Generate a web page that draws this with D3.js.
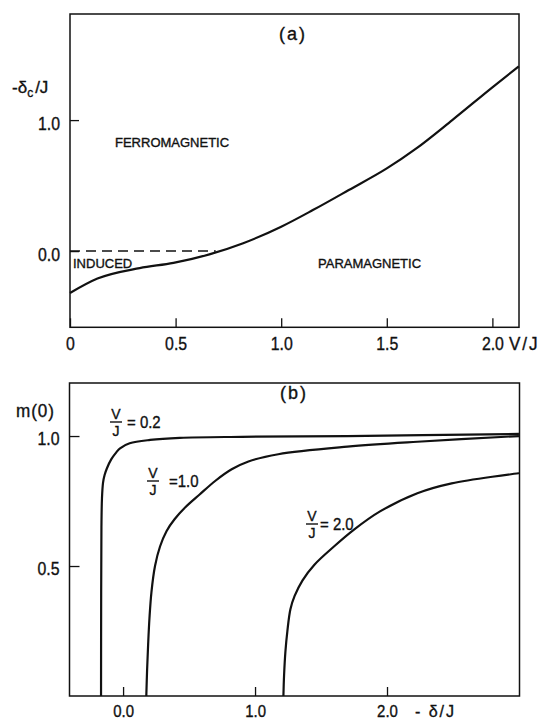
<!DOCTYPE html>
<html>
<head>
<meta charset="utf-8">
<script src="https://cdn.jsdelivr.net/npm/d3@7"></script>
<style>
  body { margin: 0; background: #fff; }
  text { font-family: "Liberation Sans", Arial, sans-serif; fill: #111; stroke: #111; stroke-width: 0.35px; }
</style>
</head>
<body>
<div id="chart"></div>
<script>
// Panel (a): phase boundary -delta_c/J vs V/J
const aV     = [0, 0.13, 0.33, 0.49, 0.66, 0.82, 1.0, 1.15, 1.32, 1.5, 1.64, 1.81, 2.0, 2.125];
const aDelta = [-0.32, -0.21, -0.13, -0.09, -0.025, 0.06, 0.186, 0.313, 0.466, 0.631, 0.784, 1.0, 1.25, 1.41];
const aDashV = [0, 0.69];
const aDashDelta = [0, 0];
const aXTicks = [0, 0.5, 1.0, 1.5, 2.0];
const aXLabels = ["0", "0.5", "1.0", "1.5", "2.0"];
const aYTicks = [0, 1.0];
const aYLabels = ["0.0", "1.0"];

// Panel (b): m(0) vs -delta/J for three V/J values
const b02x = [-0.167, -0.166, -0.164, -0.16, -0.152, -0.14, -0.123, -0.09, -0.05, -0.023, 0.05, 0.205, 0.43, 0.9, 1.7, 3.0];
const b02m = [0, 0.4, 0.65, 0.76, 0.82, 0.85, 0.875, 0.91, 0.938, 0.953, 0.972, 0.985, 0.993, 0.997, 1.0, 1.008];
const b10x = [0.176, 0.182, 0.19, 0.2, 0.215, 0.242, 0.28, 0.33, 0.39, 0.47, 0.58, 0.7, 0.823, 0.95, 1.176, 1.7, 2.23, 3.0];
const b10m = [0, 0.1, 0.2, 0.3, 0.4, 0.5, 0.575, 0.635, 0.68, 0.725, 0.775, 0.828, 0.872, 0.902, 0.93, 0.959, 0.978, 1.0];
const b20x = [1.215, 1.22, 1.23, 1.245, 1.268, 1.3, 1.36, 1.45, 1.598, 1.75, 1.947, 2.23, 2.49, 3.0];
const b20m = [0, 0.08, 0.17, 0.25, 0.334, 0.385, 0.445, 0.505, 0.575, 0.64, 0.71, 0.78, 0.818, 0.857];
const bXTicks = [0, 1.0, 2.0];
const bXLabels = ["0.0", "1.0", "2.0"];
const bYTicks = [0.5, 1.0];
const bYLabels = ["0.5", "1.0"];
const bCurveNames = ["= 0.2", "=1.0", "= 2.0"];

const svg = d3.select("#chart").append("svg")
    .attr("width", 545)
    .attr("height", 721);

function zip(xs, ys) { return xs.map((x, i) => [x, ys[i]]); }

// squeeze glyphs a little, the original lettering is narrow
function narrow(sel, k) {
  sel.each(function () {
    const w = this.getComputedTextLength();
    d3.select(this).attr("textLength", w * k).attr("lengthAdjust", "spacingAndGlyphs");
  });
}

function styleAxis(g, size) {
  g.select(".domain").remove();
  g.selectAll("line").attr("stroke", "#111").attr("stroke-width", 1.3);
  g.selectAll("text").attr("font-size", size).call(narrow, 0.88);
}

// ---------- panel (a) ----------
const ax = d3.scaleLinear().domain([0, 2.126]).range([70, 519]);
const ay = d3.scaleLinear().domain([-0.582, 1.81]).range([327.3, 14]);

const ga = svg.append("g");
ga.append("rect")
    .attr("x", ax.range()[0]).attr("y", ay.range()[1])
    .attr("width", ax.range()[1] - ax.range()[0])
    .attr("height", ay.range()[0] - ay.range()[1])
    .attr("fill", "none").attr("stroke", "#111").attr("stroke-width", 1.5);

ga.append("g")
    .attr("transform", `translate(0,${ay.range()[0]})`)
    .call(d3.axisBottom(ax).tickValues(aXTicks).tickFormat((d, i) => aXLabels[i])
        .tickSize(-9).tickSizeOuter(0).tickPadding(10))
    .call(g => styleAxis(g, 18));

ga.append("g")
    .attr("transform", `translate(${ax.range()[0]},0)`)
    .call(d3.axisLeft(ay).tickValues(aYTicks).tickFormat((d, i) => aYLabels[i])
        .tickSize(-9).tickSizeOuter(0).tickPadding(10))
    .call(g => styleAxis(g, 18))
    .call(g => g.selectAll("text").attr("dy", "0.5em"));

const lineA = d3.line().x(d => ax(d[0])).y(d => ay(d[1])).curve(d3.curveMonotoneX);
ga.append("path")
    .datum(zip(aV, aDelta))
    .attr("d", lineA)
    .attr("fill", "none").attr("stroke", "#111").attr("stroke-width", 2.2);
ga.append("path")
    .datum(zip(aDashV, aDashDelta))
    .attr("d", d3.line().x(d => ax(d[0])).y(d => ay(d[1])))
    .attr("fill", "none").attr("stroke", "#111").attr("stroke-width", 1.6)
    .attr("stroke-dasharray", "10,6");

ga.append("text").attr("x", 293).attr("y", 40).attr("text-anchor", "middle")
    .attr("font-size", 18).attr("letter-spacing", 2).text("(a)");
ga.append("text").attr("x", 115).attr("y", 147).attr("font-size", 13).text("FERROMAGNETIC");
ga.append("text").attr("x", 73).attr("y", 268).attr("font-size", 13).text("INDUCED");
ga.append("text").attr("x", 318).attr("y", 268).attr("font-size", 13).text("PARAMAGNETIC");
ga.append("text").attr("x", 509).attr("y", 350).attr("font-size", 18)
    .attr("letter-spacing", 2).text("V/J").call(narrow, 0.95);
const ylabA = ga.append("text").attr("x", 12).attr("y", 93).attr("font-size", 17);
ylabA.append("tspan").text("-δ");
ylabA.append("tspan").attr("font-size", 12).attr("dy", 4).text("c");
ylabA.append("tspan").attr("dy", -4).attr("dx", 2).text("/J");

// ---------- panel (b) ----------
const bx = d3.scaleLinear().domain([-0.406, 3.004]).range([69.5, 519.5]);
const by = d3.scaleLinear().domain([0, 1.204]).range([696, 383]);

const gb = svg.append("g");
gb.append("rect")
    .attr("x", bx.range()[0]).attr("y", by.range()[1])
    .attr("width", bx.range()[1] - bx.range()[0])
    .attr("height", by.range()[0] - by.range()[1])
    .attr("fill", "none").attr("stroke", "#111").attr("stroke-width", 1.5);

gb.append("g")
    .attr("transform", `translate(0,${by.range()[0]})`)
    .call(d3.axisBottom(bx).tickValues(bXTicks).tickFormat((d, i) => bXLabels[i])
        .tickSize(-9).tickSizeOuter(0).tickPadding(9))
    .call(g => styleAxis(g, 17));

gb.append("g")
    .attr("transform", `translate(${bx.range()[0]},0)`)
    .call(d3.axisLeft(by).tickValues(bYTicks).tickFormat((d, i) => bYLabels[i])
        .tickSize(-10).tickSizeOuter(0).tickPadding(10))
    .call(g => styleAxis(g, 18))
    .call(g => g.selectAll("text").attr("dy", "0.45em"));

const lineB = d3.line().x(d => bx(d[0])).y(d => by(d[1])).curve(d3.curveCatmullRom.alpha(0.5));
[[b02x, b02m], [b10x, b10m], [b20x, b20m]].forEach(([xs, ys]) => {
  gb.append("path")
      .datum(zip(xs, ys))
      .attr("d", lineB)
      .attr("fill", "none").attr("stroke", "#111").attr("stroke-width", 2.2);
});

gb.append("text").attr("x", 294).attr("y", 399).attr("text-anchor", "middle")
    .attr("font-size", 18).attr("letter-spacing", 2).text("(b)");
gb.append("text").attr("x", 16).attr("y", 417).attr("font-size", 18)
    .attr("letter-spacing", 1).text("m(0)").call(narrow, 0.95);
gb.append("text").attr("x", 415).attr("y", 717).attr("font-size", 17)
    .attr("letter-spacing", 2).text("- δ/J").call(narrow, 0.95);

// fraction labels V/J = value
function fracLabel(x, barY, valX, val) {
  const g = gb.append("g").attr("transform", `translate(${x},${barY})`);
  g.append("text").attr("x", 0).attr("y", -3).attr("text-anchor", "middle").attr("font-size", 14).text("V");
  g.append("line").attr("x1", -6).attr("x2", 6).attr("y1", 0).attr("y2", 0)
      .attr("stroke", "#111").attr("stroke-width", 1.4);
  g.append("text").attr("x", 0).attr("y", 14).attr("text-anchor", "middle").attr("font-size", 14).text("J");
  g.append("text").attr("x", valX - x).attr("y", 6).attr("font-size", 17).text(val).call(narrow, 0.88);
}
fracLabel(116, 422, 127, bCurveNames[0]);
fracLabel(153, 481, 169, bCurveNames[1]);
fracLabel(312, 524, 320, bCurveNames[2]);
</script>
</body>
</html>
